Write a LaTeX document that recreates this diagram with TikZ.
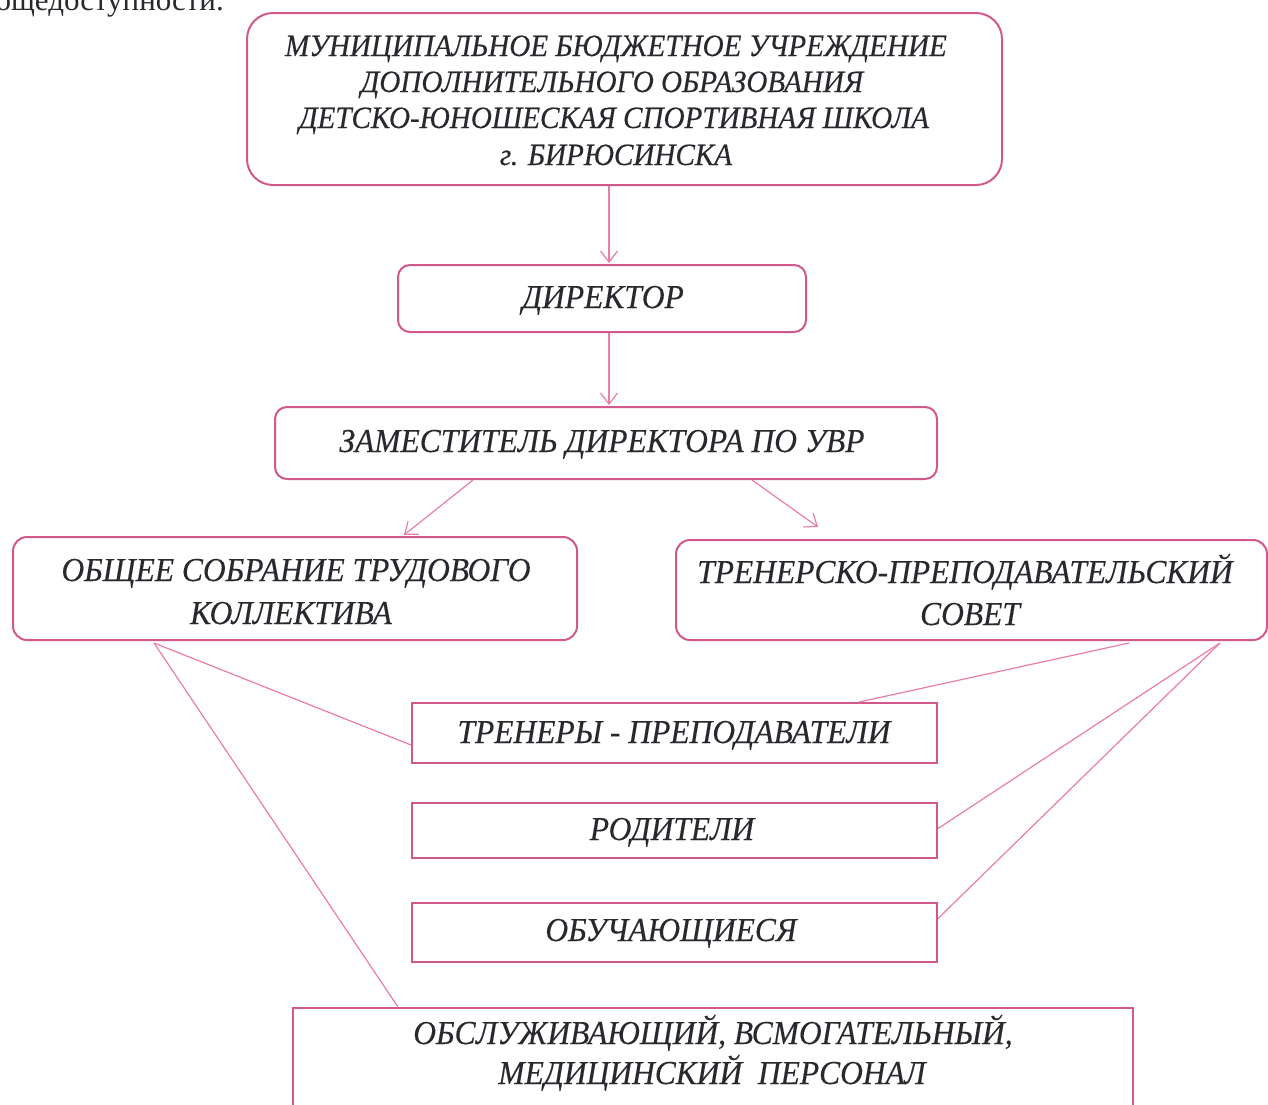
\documentclass[tikz,border=0pt]{standalone}
\usepackage{fontspec}
\setmainfont{Liberation Serif}
\newfontfamily\boxfont{Liberation Serif}[FakeStretch=0.94, FakeBold=0.3]
\usetikzlibrary{arrows.meta}
\definecolor{boxpink}{RGB}{208,88,138}
\definecolor{linepink}{RGB}{234,125,168}
\definecolor{txtgray}{RGB}{40,40,46}
\tikzset{
  rbox/.style={draw=boxpink, line width=2pt, rounded corners=#1, inner sep=0pt},
  sbox/.style={draw=boxpink, line width=2pt, inner sep=0pt},
  lbl/.style={anchor=base, inner sep=0pt, text=txtgray, font=\boxfont\itshape\fontsize{33.5}{40}\selectfont},
  tlbl/.style={anchor=base, inner sep=0pt, text=txtgray, font=\boxfont\itshape\fontsize{31}{36}\selectfont},
  arr/.style={draw=linepink, line width=1.2pt, -{Straight Barb[length=11pt,width=17pt]}},
  link/.style={draw=linepink, line width=1.2pt}
}
\begin{document}
\begin{tikzpicture}[x=1pt,y=-1pt]
\useasboundingbox[fill=white] (0,0) rectangle (1268,1104);
\node[anchor=base east, inner sep=0pt, text=txtgray, font=\fontsize{31}{36}\selectfont] (hdr) at (224,10) {общедоступности.};

% boxes
\node[rbox=26pt, minimum width=755pt, minimum height=172pt] (top) at (624.5,99) {};
\node[rbox=12pt, minimum width=408pt, minimum height=67pt] (dir) at (602,298.5) {};
\node[rbox=12pt, minimum width=662pt, minimum height=72pt] (dep) at (606,443) {};
\node[rbox=14pt, minimum width=564pt, minimum height=103pt] (left) at (295,588.5) {};
\node[rbox=14pt, minimum width=591pt, minimum height=100pt] (right) at (971.5,590) {};
\node[sbox, minimum width=525pt, minimum height=60pt] (tr) at (674.5,733) {};
\node[sbox, minimum width=525pt, minimum height=55pt] (par) at (674.5,830.5) {};
\node[sbox, minimum width=525pt, minimum height=59pt] (stu) at (674.5,932.5) {};
\node[sbox, minimum width=840pt, minimum height=140pt] (staff) at (712.5,1078) {};

% texts
\node[tlbl] (t1) at (616,56) {МУНИЦИПАЛЬНОЕ БЮДЖЕТНОЕ УЧРЕЖДЕНИЕ};
\node[tlbl] (t2) at (612,92) {ДОПОЛНИТЕЛЬНОГО ОБРАЗОВАНИЯ};
\node[tlbl] (t3) at (614,128) {ДЕТСКО-ЮНОШЕСКАЯ СПОРТИВНАЯ ШКОЛА};
\node[tlbl] (t4) at (616,165) {г. БИРЮСИНСКА};
\node[lbl] (tdir) at (603,308) {ДИРЕКТОР};
\node[lbl] (tdep) at (602,452) {ЗАМЕСТИТЕЛЬ ДИРЕКТОРА ПО УВР};
\node[lbl] (tl1) at (296,581) {ОБЩЕЕ СОБРАНИЕ ТРУДОВОГО};
\node[lbl] (tl2) at (291,624) {КОЛЛЕКТИВА};
\node[lbl] (tr1) at (965,583) {ТРЕНЕРСКО-ПРЕПОДАВАТЕЛЬСКИЙ};
\node[lbl] (tr2) at (970,625) {СОВЕТ};
\node[lbl] (ttr) at (674,743) {ТРЕНЕРЫ - ПРЕПОДАВАТЕЛИ};
\node[lbl] (tpar) at (672,840) {РОДИТЕЛИ};
\node[lbl] (tstu) at (671,941) {ОБУЧАЮЩИЕСЯ};
\node[lbl] (ts1) at (713,1044) {ОБСЛУЖИВАЮЩИЙ, ВСМОГАТЕЛЬНЫЙ,};
\node[lbl] (ts2) at (712,1084) {МЕДИЦИНСКИЙ\ \ ПЕРСОНАЛ};

% connector ends
\coordinate (a1) at (609,0);
\coordinate (dl) at (473,0);
\coordinate (tl) at (404,0);
\coordinate (dr) at (752,0);
\coordinate (rtip) at (818,527);
\coordinate (l1) at (154,643);
\coordinate (r1) at (1129,643);
\coordinate (r2) at (1220,643);
\coordinate (x1) at (398,0);
\coordinate (x2) at (859,0);

\draw[arr] (top.south -| a1) -- ([yshift=1pt]dir.north -| a1);
\draw[arr] (dir.south -| a1) -- ([yshift=1pt]dep.north -| a1);
\draw[arr] (dep.south -| dl) -- ([yshift=1pt]left.north -| tl);
\draw[arr] (dep.south -| dr) -- (rtip);
\draw[link] (l1) -- ([yshift=-12pt]tr.west);
\draw[link] (l1) -- (staff.north -| x1);
\draw[link] (r1) -- (tr.north -| x2);
\draw[link] (r2) -- ([yshift=2pt]par.east);
\draw[link] (r2) -- ([yshift=14pt]stu.east);
\end{tikzpicture}
\end{document}
